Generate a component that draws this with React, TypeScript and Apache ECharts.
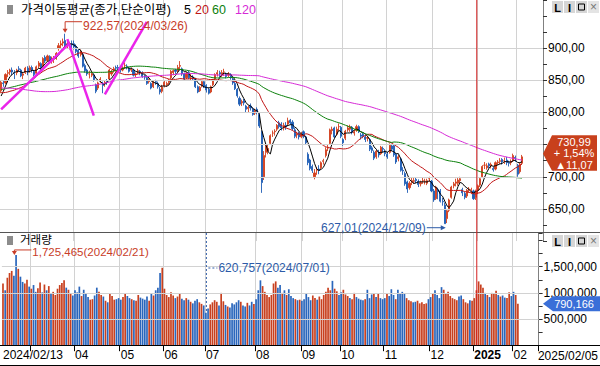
import React, { useEffect, useRef } from 'react';
import * as echarts from 'echarts';

// ---------------- DATA ----------------
const tradingDays: [string, number[]][] = [
  ['2024/02', [13, 14, 15, 16, 19, 20, 21, 22, 23, 26, 27, 28, 29]],
  ['2024/03', [4, 5, 6, 7, 8, 11, 12, 13, 14, 15, 18, 19, 20, 21, 22, 25, 26, 27, 28, 29]],
  ['2024/04', [1, 2, 3, 4, 5, 8, 9, 11, 12, 15, 16, 17, 18, 19, 22, 23, 24, 25, 26, 29, 30]],
  ['2024/05', [2, 3, 7, 8, 9, 10, 13, 14, 16, 17, 20, 21, 22, 23, 24, 27, 28, 29, 30, 31]],
  ['2024/06', [3, 4, 5, 7, 10, 11, 12, 13, 14, 17, 18, 19, 20, 21, 24, 25, 26, 27, 28]],
  ['2024/07', [1, 2, 3, 4, 5, 8, 9, 10, 11, 12, 15, 16, 17, 18, 19, 22, 23, 24, 25, 26, 29, 30, 31]],
  ['2024/08', [1, 2, 5, 6, 7, 8, 9, 12, 13, 14, 16, 19, 20, 21, 22, 23, 26, 27, 28, 29, 30]],
  ['2024/09', [2, 3, 4, 5, 6, 9, 10, 11, 12, 13, 19, 20, 23, 24, 25, 26, 27, 30]],
  ['2024/10', [2, 4, 7, 8, 10, 11, 14, 15, 16, 17, 18, 21, 22, 23, 24, 25, 28, 29, 30, 31]],
  ['2024/11', [1, 4, 5, 6, 7, 8, 11, 12, 13, 14, 15, 18, 19, 20, 21, 22, 25, 26, 27, 28, 29]],
  ['2024/12', [2, 3, 4, 5, 6, 9, 10, 11, 12, 13, 16, 17, 18, 19, 20, 23, 24, 26, 27, 30]],
  ['2025/01', [2, 3, 6, 7, 8, 9, 10, 13, 14, 15, 16, 17, 20, 21, 22, 23, 24, 31]],
  ['2025/02', [3, 4, 5]],
];

// closes before the visible range (needed for the moving averages)
const preCloses = [
  888, 872, 866, 873, 884, 888, 905, 905, 910, 914, 918, 925,
  920, 926, 921, 915, 910, 902, 895, 890, 885, 880, 876, 866, 860, 852, 848, 855, 843, 838, 829,
  800, 806, 808, 800, 810, 815, 809, 806, 815, 810, 791, 779, 770, 778, 771, 746, 758, 758, 757,
  766, 786, 783, 839, 817, 808, 800, 797, 800, 806, 819, 819, 810, 811, 815, 812, 815, 809, 812, 814, 816, 808,
  816, 830, 820, 821, 818, 824, 830, 835, 826, 832, 835, 838, 852, 855, 852, 852, 851, 859, 866,
  878, 866, 868, 878, 879, 873, 870, 874, 869, 858, 851, 849, 842, 847, 842, 840, 838, 832, 826, 830, 820, 808,
  805, 813, 808, 818, 823, 832,
];

// [open, close, low, high]
const ohlc: number[][] = [
  // 2024/02
  [834, 847, 830, 849], [846, 845, 840, 850], [846, 859, 844, 861], [861, 862, 855, 866], [863, 866, 858, 868],
  [866, 863, 858, 870], [862, 861, 852, 866], [862, 866, 858, 868], [868, 867, 863, 872], [866, 857, 855, 868],
  [858, 860, 852, 862], [862, 869, 860, 871], [869, 863, 858, 872],
  // 2024/03
  [866, 870, 862, 873], [870, 866, 862, 873], [864, 859, 856, 866], [861, 871, 860, 873], [872, 877, 869, 880],
  [876, 869, 866, 878], [872, 884, 870, 886], [886, 880, 877, 889], [881, 888, 879, 890], [887, 880, 878, 889],
  [880, 884, 876, 887], [883, 885, 877, 888], [884, 892, 882, 894], [900, 904, 896, 908], [905, 907, 900, 912],
  [908, 910, 903, 915], [912, 905, 902, 922.57], [905, 907, 899, 910], [906, 906, 898, 910], [907, 905, 900, 912],
  // 2024/04
  [907, 902, 898, 912], [903, 895, 892, 906], [897, 888, 885, 900], [890, 895, 887, 898], [890, 872, 870, 892],
  [873, 865, 862, 876], [866, 860, 857, 868], [860, 860, 853, 865], [858, 860, 855, 864], [858, 851, 848, 860],
  [843, 833, 830, 845], [838, 846, 835, 848], [850, 852, 846, 855], [845, 842, 830, 848], [846, 847, 840, 850],
  [848, 847, 843, 852], [852, 866, 851, 868], [860, 863, 857, 866], [866, 868, 862, 871], [870, 869, 865, 873],
  [870, 869, 864, 874],
  // 2024/05
  [868, 867, 862, 871], [866, 869, 864, 872], [873, 873, 868, 878], [872, 871, 867, 875], [869, 864, 862, 871],
  [866, 867, 863, 870], [866, 858, 856, 868], [859, 860, 855, 862], [864, 865, 860, 868], [864, 862, 858, 866],
  [862, 856, 854, 864], [857, 855, 851, 859], [854, 845, 843, 856], [848, 851, 845, 853], [845, 838, 836, 847],
  [840, 847, 838, 849], [848, 847, 843, 851], [845, 840, 837, 848], [836, 832, 828, 840], [833, 840, 830, 843],
  // 2024/06
  [842, 847, 839, 850], [843, 845, 840, 848], [847, 849, 843, 852], [854, 864, 852, 866], [862, 865, 858, 867],
  [866, 864, 860, 868], [865, 870, 862, 874], [872, 873, 867, 880], [868, 860, 857, 870], [860, 852, 850, 862],
  [854, 861, 852, 863], [862, 854, 852, 865], [855, 856, 850, 860], [855, 852, 849, 858], [852, 840, 838, 854],
  [840, 832, 830, 842], [834, 839, 832, 841], [841, 848, 839, 850], [848, 840, 838, 850],
  // 2024/07
  [842, 835, 831, 844], [836, 830, 828, 839], [832, 840, 830, 842], [843, 850, 841, 852], [852, 859, 850, 861],
  [860, 862, 856, 866], [862, 860, 855, 865], [858, 862, 855, 866], [863, 863, 857, 868], [860, 856, 853, 862],
  [858, 860, 855, 863], [859, 854, 851, 861], [852, 846, 843, 855], [845, 837, 835, 848], [836, 826, 823, 838],
  [822, 813, 810, 825], [815, 817, 810, 820], [818, 815, 811, 821], [810, 805, 800, 812], [806, 808, 800, 811],
  [810, 807, 803, 814], [805, 797, 795, 808], [799, 803, 796, 806],
  // 2024/08
  [805, 800, 797, 808], [797, 779, 776, 799], [770, 691, 675, 772], [700, 733, 695, 740], [738, 746, 730, 752],
  [740, 744, 735, 750], [752, 764, 750, 766], [768, 768, 762, 772], [770, 771, 764, 774], [774, 780, 771, 782],
  [784, 778, 775, 787], [782, 776, 772, 785], [776, 780, 772, 784], [780, 778, 773, 785], [782, 787, 779, 792],
  [788, 784, 781, 790], [785, 775, 772, 788], [773, 763, 760, 776], [765, 767, 760, 770], [768, 762, 758, 770],
  [762, 767, 760, 770],
  // 2024/09
  [770, 763, 760, 772], [762, 753, 750, 764], [735, 722, 718, 738], [726, 713, 710, 728], [716, 710, 706, 719],
  [700, 706, 696, 712], [710, 710, 703, 715], [712, 710, 704, 718], [714, 722, 712, 724], [724, 725, 719, 728],
  [733, 742, 730, 746], [745, 746, 740, 750], [752, 773, 750, 775], [772, 774, 766, 778], [776, 762, 760, 778],
  [766, 774, 764, 778], [778, 778, 772, 783], [777, 763, 760, 779],
  // 2024/10
  [758, 753, 748, 760], [760, 771, 757, 773], [773, 776, 770, 780], [774, 778, 770, 781], [777, 769, 766, 779],
  [768, 770, 764, 773], [772, 778, 770, 781], [778, 770, 768, 780], [765, 763, 758, 768], [766, 763, 760, 769],
  [762, 758, 754, 765], [760, 761, 755, 764], [758, 743, 740, 760], [745, 741, 737, 748], [738, 729, 726, 741],
  [731, 740, 728, 742], [738, 734, 730, 742], [736, 746, 734, 748], [744, 743, 738, 747], [740, 736, 732, 743],
  // 2024/11
  [735, 731, 728, 739], [738, 749, 736, 752], [748, 743, 740, 751], [748, 734, 731, 750], [735, 723, 720, 737],
  [728, 731, 724, 734], [728, 710, 708, 730], [710, 709, 703, 715], [705, 689, 686, 708], [692, 681, 675, 694],
  [683, 690, 680, 693], [692, 694, 687, 698], [693, 694, 689, 698], [696, 694, 690, 699], [693, 688, 684, 696],
  [689, 691, 685, 694], [694, 694, 689, 699], [693, 693, 688, 697], [690, 694, 687, 697], [697, 697, 692, 700],
  [693, 678, 676, 695],
  // 2024/12
  [678, 664, 661, 681], [666, 684, 664, 686], [680, 677, 665, 683], [678, 662, 660, 681], [662, 661, 655, 667],
  [656, 627.01, 627.01, 660], [635, 647, 628, 650], [648, 664, 645, 666], [668, 684, 666, 686], [686, 689, 682, 692],
  [690, 692, 685, 697], [690, 695, 686, 698], [694, 697, 690, 700], [680, 675, 670, 683], [674, 668, 665, 677],
  [670, 679, 667, 681], [680, 681, 676, 684], [679, 680, 673, 683], [678, 666, 664, 680], [668, 678, 664, 680],
  // 2025/01
  [679, 686, 673, 688], [687, 697, 684, 699], [700, 716, 698, 718], [718, 718, 712, 723], [714, 717, 711, 721],
  [720, 717, 713, 722], [717, 719, 713, 722], [713, 711, 708, 716], [712, 722, 710, 724], [722, 723, 718, 726],
  [724, 725, 720, 729], [727, 723, 719, 729], [725, 725, 720, 730], [726, 722, 718, 731], [722, 721, 716, 725],
  [722, 724, 718, 727], [725, 733, 723, 736], [730, 729, 723, 733],
  // 2025/02
  [718, 704, 700, 720], [708, 719.92, 705, 722], [721, 730.99, 719, 734],
];

const volumes: number[] = [
  1180000, 1050000, 1290000, 1380000, 1420000, 1330000, 1725465, 1460000, 1310000, 1210000, 1180000, 1250000, 1120000,
  1080000, 1150000, 1020000, 1090000, 1200000, 1010000, 1160000, 1050000, 1130000, 990000, 1020000, 960000, 1080000, 1150000, 1190000, 1240000, 1100000, 1060000, 990000, 950000,
  1050000, 1010000, 1120000, 940000, 1060000, 980000, 920000, 870000, 880000, 950000, 1100000, 1020000, 960000, 930000, 850000, 820000, 990000, 940000, 870000, 880000, 900000,
  870000, 920000, 980000, 940000, 900000, 880000, 860000, 850000, 960000, 910000, 890000, 870000, 930000, 850000, 980000, 950000, 1050000, 1100000, 1380000, 1480000,
  1080000, 960000, 920000, 1010000, 950000, 900000, 930000, 980000, 890000, 860000, 900000, 870000, 830000, 800000, 850000, 880000, 820000, 790000, 760000,
  620757, 700000, 780000, 820000, 860000, 830000, 760000, 1000000, 840000, 770000, 740000, 720000, 800000, 780000, 820000, 860000, 830000, 760000, 740000, 810000, 760000, 830000, 790000,
  880000, 1050000, 1240000, 1130000, 1020000, 960000, 920000, 960000, 1180000, 1220000, 1100000, 1150000, 1000000, 1050000, 960000, 1070000, 940000, 900000, 880000, 860000, 870000,
  850000, 880000, 990000, 920000, 860000, 950000, 900000, 870000, 930000, 880000, 960000, 1020000, 1100000, 1050000, 1230000, 1080000, 1030000, 960000,
  1010000, 1060000, 970000, 940000, 900000, 880000, 1000000, 920000, 890000, 870000, 860000, 880000, 1060000, 900000, 970000, 1000000, 920000, 980000, 900000, 880000,
  900000, 980000, 940000, 1070000, 960000, 880000, 1060000, 980000, 1020000, 990000, 900000, 860000, 840000, 820000, 830000, 850000, 800000, 820000, 790000, 800000, 880000,
  920000, 980000, 1050000, 960000, 900000, 1110000, 1060000, 1000000, 1020000, 940000, 900000, 880000, 860000, 930000, 950000, 880000, 820000, 800000, 860000, 850000,
  900000, 1050000, 1220000, 1160000, 1100000, 1000000, 960000, 920000, 1000000, 980000, 1040000, 960000, 930000, 950000, 910000, 900000, 1010000, 940000,
  1020000, 960000, 790166,
];

const maPeriods = [5, 20, 60, 120];
const maColors = ['#000000', '#c01616', '#0c800c', '#d62ad6'];
const priceGridLevels = [650, 700, 750, 800, 850, 900];
const volumeGridLevels = [500000, 1000000, 1500000];
// user-drawn trend lines: [dayIndex, price] pairs
const trendLines: number[][][] = [
  [[0, 805], [31, 908]],
  [[30, 914], [42, 795]],
  [[47, 828], [66, 941]],
];
const chartTitle = '가격이동평균(종가,단순이평)';
const volumeTitle = '거래량';
const endDateLabel = '2025/02/05';

// ---------------- HELPERS ----------------
const FONT = "'Liberation Sans', Arial, 'Noto Sans CJK KR', sans-serif";
const UP = '#d2401e';
const DOWN = '#1f5eb5';
const UPV = '#c8401f';
const DOWNV = '#2a66bc';
const RED_TXT = '#c83c28';
const BLUE_TXT = '#2d5ba8';

const dates: string[] = [];
tradingDays.forEach(([ym, days]) => days.forEach((d) => dates.push(`${ym}/${String(d).padStart(2, '0')}`)));
const padCount = 9;
const categories = [...dates, ...Array.from({ length: padCount }, (_, k) => `pad${k}`)];
const monthStarts = new Set<number>();
dates.forEach((d, i) => {
  if (i > 0 && d.slice(0, 7) !== dates[i - 1].slice(0, 7)) monthStarts.add(i);
});
const closes = ohlc.map((d) => d[1]);
const lastClose = closes[closes.length - 1];
const allCloses = [...preCloses, ...closes];
function movingAverage(n: number) {
  return closes.map((_, i) => {
    const end = i + preCloses.length;
    let s = 0;
    for (let k = end - n + 1; k <= end; k++) s += allCloses[k];
    return +(s / n).toFixed(2);
  });
}
const fmtPrice = (v: number) => v.toFixed(2).replace('.', ',');
const fmtVol = (v: number) => Math.round(v).toLocaleString('en-US');

export default function App() {
  const ref = useRef<HTMLDivElement>(null);
  useEffect(() => {
    const el = ref.current!;
    const chart = echarts.init(el, undefined, { renderer: 'svg' });
    const xBase = {
      type: 'category',
      data: categories,
      boundaryGap: true,
      axisLine: { show: false },
      axisTick: { show: false },
      axisLabel: { show: false },
      splitLine: { show: true, interval: (i: number) => monthStarts.has(i), lineStyle: { color: '#d2d2d2', width: 1 } },
    };
    const option: any = {
      animation: false,
      backgroundColor: '#ffffff',
      grid: [
        { left: -1, right: 57, top: -9.43, height: 250.5 },
        { left: -1, right: 57, top: 233, height: 112.2 },
      ],
      xAxis: [
        { ...xBase, gridIndex: 0 },
        {
          ...xBase,
          gridIndex: 1,
          axisTick: { show: true, interval: (i: number) => monthStarts.has(i), length: 6, lineStyle: { color: '#000' } },
          axisLabel: {
            show: true,
            interval: (i: number) => i === 0 || (monthStarts.has(i) && i > 20),
            align: 'left',
            margin: 4,
            fontSize: 12,
            fontFamily: FONT,
            color: '#000',
            formatter: (v: string, i: number) => {
              if (i === 0) return v;
              const mm = v.slice(5, 7);
              if (mm === '01') return `{b|${v.slice(0, 4)}}`;
              return mm;
            },
            rich: { b: { fontWeight: 'bold', fontSize: 12, fontFamily: FONT, color: '#000' } },
          },
        },
      ],
      yAxis: [
        {
          type: 'value', gridIndex: 0, position: 'right', min: 600, max: 975, interval: 25,
          axisLine: { show: true, lineStyle: { color: '#808080' } },
          axisTick: { show: true, length: 4, lineStyle: { color: '#333' } },
          splitLine: { show: false },
          axisLabel: {
            margin: 5, fontSize: 12, fontFamily: FONT, color: '#000',
            // labels hidden behind the current-price box are not drawn
            formatter: (v: number) => (priceGridLevels.includes(v) && Math.abs(v - lastClose) >= 25 ? fmtPrice(v) : ''),
          },
        },
        {
          type: 'value', gridIndex: 1, position: 'right', min: 0, max: 2145000, interval: 250000,
          axisLine: { show: true, lineStyle: { color: '#808080' } },
          axisTick: { show: true, length: 4, lineStyle: { color: '#333' } },
          splitLine: { show: false },
          axisLabel: {
            margin: 5, fontSize: 12, fontFamily: FONT, color: '#000',
            formatter: (v: number) => (volumeGridLevels.includes(v) ? fmtVol(v) : ''),
          },
        },
      ],
      series: [
        {
          type: 'line', xAxisIndex: 0, yAxisIndex: 0, data: closes.map(() => null), z: 1, silent: true,
          symbol: 'none',
          markLine: {
            silent: true, symbol: ['none', 'none'], label: { show: false },
            lineStyle: { color: '#d2d2d2', type: 'solid', width: 1 },
            data: priceGridLevels.map((v) => ({ yAxis: v })),
          },
        },
        {
          type: 'line', xAxisIndex: 1, yAxisIndex: 1, data: volumes.map(() => null), z: 1, silent: true,
          symbol: 'none',
          markLine: {
            silent: true, symbol: ['none', 'none'], label: { show: false },
            lineStyle: { color: '#d2d2d2', type: 'solid', width: 1 },
            data: volumeGridLevels.map((v) => ({ yAxis: v })),
          },
        },
        {
          type: 'candlestick', xAxisIndex: 0, yAxisIndex: 0, data: ohlc, barWidth: 1.6, z: 3,
          itemStyle: { color: UP, color0: DOWN, borderColor: UP, borderColor0: DOWN, borderColorDoji: UP, borderWidth: 0.9 },
        },
        ...maPeriods.map((p, k) => ({
          type: 'line', xAxisIndex: 0, yAxisIndex: 0, data: movingAverage(p), symbol: 'none', silent: true, z: 4,
          lineStyle: { width: 1, color: maColors[k] },
        })),
        {
          type: 'bar', xAxisIndex: 1, yAxisIndex: 1, barWidth: 1.7, z: 3,
          data: volumes.map((v, i) => ({ value: v, itemStyle: { color: ohlc[i][1] >= ohlc[i][0] ? UPV : DOWNV } })),
        },
      ],
    };
    chart.setOption(option);

    const X = (i: number) => chart.convertToPixel({ xAxisIndex: 0 }, i) as number;
    const YP = (v: number) => chart.convertToPixel({ yAxisIndex: 0 }, v) as number;
    const YV = (v: number) => chart.convertToPixel({ yAxisIndex: 1 }, v) as number;
    const band = X(1) - X(0);

    const txt = (text: string, x: number, y: number, fill: string, align = 'left', size = 12, weight = 'normal', lineHeight?: number) => ({
      type: 'text', x, y, z: 100,
      style: { text, fill, fontSize: size, fontFamily: FONT, fontWeight: weight, align, verticalAlign: 'middle', lineHeight },
    });
    const ln = (x1: number, y1: number, x2: number, y2: number, stroke: string, lineWidth = 1, lineDash?: number[]) => ({
      type: 'line', z: 100, shape: { x1, y1, x2, y2 }, style: { stroke, lineWidth, lineDash },
    });
    const poly = (points: number[][], fill: string) => ({ type: 'polygon', z: 100, shape: { points }, style: { fill } });
    const rect = (x: number, y: number, w: number, h: number, fill: string, stroke?: string) => ({
      type: 'rect', z: 100, shape: { x, y, width: w, height: h }, style: { fill, stroke },
    });
    const buttons = (y: number) => [
      rect(552, y, 11, 12, '#d6d6d6'), txt('L', 557.5, y + 6.5, '#000', 'center', 11, 'bold'),
      rect(564, y, 11, 12, '#d6d6d6'), txt('I', 569.5, y + 6.5, '#000', 'center', 11, 'bold'),
      rect(576, y, 11, 12, '#d6d6d6'), rect(578.5, y + 3, 6, 6, 'none', '#000'),
      rect(588, y, 11, 12, '#e4e4e4'), txt('×', 593.5, y + 6, '#777', 'center', 12, 'normal'),
    ];

    const els: any[] = [];
    // titles
    els.push(rect(7, 5, 6, 9, '#8c8c8c'));
    els.push(txt(chartTitle, 21, 9.5, '#000', 'left', 12.5));
    els.push(txt(String(maPeriods[0]), 184, 9.5, maColors[0], 'left', 12.5));
    els.push(txt(String(maPeriods[1]), 195, 9.5, maColors[1], 'left', 12.5));
    els.push(txt(String(maPeriods[2]), 212, 9.5, maColors[2], 'left', 12.5));
    els.push(txt(String(maPeriods[3]), 235, 9.5, maColors[3], 'left', 12.5));
    els.push(rect(7, 236, 6, 9, '#8c8c8c'));
    els.push(txt(volumeTitle, 20, 240, '#000', 'left', 11.5));
    els.push(...buttons(1));
    els.push(...buttons(235));
    // separators and frame lines
    const yZero = YV(0);
    els.push(ln(0, 232.5, 600, 232.5, '#555', 1));
    els.push(ln(0, Math.round(yZero) + 0.5, 600, Math.round(yZero) + 0.5, '#000', 1));
    els.push(ln(0, 365.5, 600, 365.5, '#000', 1));
    // year divider
    const yearIdx = dates.findIndex((d) => d.startsWith('2025'));
    const xYear = X(yearIdx) - band / 2;
    els.push(ln(xYear, 0, xYear, yZero, '#d42020', 1));
    // trend lines
    trendLines.forEach(([a, b]) => els.push(ln(X(a[0]), YP(a[1]), X(b[0]), YP(b[1]), '#ea24ea', 2.5)));

    // max / min price annotations
    let hiIdx = 0, loIdx = 0;
    ohlc.forEach((d, i) => {
      if (d[3] > ohlc[hiIdx][3]) hiIdx = i;
      if (d[2] < ohlc[loIdx][2]) loIdx = i;
    });
    {
      const x = X(hiIdx), y = YP(ohlc[hiIdx][3]);
      els.push(ln(x, y - 12, x + 17, y - 12, RED_TXT));
      els.push(ln(x, y - 12, x, y - 4, RED_TXT));
      els.push(poly([[x - 2.5, y - 5], [x + 2.5, y - 5], [x, y - 1]], RED_TXT));
      els.push(txt(`${fmtPrice(ohlc[hiIdx][3])}(${dates[hiIdx]})`, x + 18, y - 8, RED_TXT));
    }
    {
      const x = X(loIdx), y = YP(ohlc[loIdx][2]) + 4;
      els.push(ln(x - 18, y, x - 2, y, BLUE_TXT));
      els.push(poly([[x - 4, y - 2.5], [x - 4, y + 2.5], [x + 1, y]], BLUE_TXT));
      els.push(txt(`${fmtPrice(ohlc[loIdx][2])}(${dates[loIdx]})`, x - 19, y, BLUE_TXT, 'right'));
    }
    // max / min volume annotations
    let vHi = 0, vLo = 0;
    volumes.forEach((v, i) => {
      if (v > volumes[vHi]) vHi = i;
      if (v < volumes[vLo]) vLo = i;
    });
    {
      const x = X(vHi), y = YV(volumes[vHi]);
      els.push(ln(x, y - 5, x + 17, y - 5, RED_TXT));
      els.push(ln(x, y - 5, x, y - 3, RED_TXT));
      els.push(poly([[x - 2.5, y - 4], [x + 2.5, y - 4], [x, y]], RED_TXT));
      els.push(txt(`${fmtVol(volumes[vHi])}(${dates[vHi]})`, x + 18, y - 2.5, RED_TXT, 'left', 11.5));
    }
    {
      const x = X(vLo), y = YV(volumes[vLo]);
      const ly = 268;
      els.push(ln(x, 233, x, y, BLUE_TXT, 1, [2, 2]));
      els.push(ln(x + 2, ly, x + 11, ly, BLUE_TXT, 1, [2, 2]));
      els.push(txt(`${fmtVol(volumes[vLo])}(${dates[vLo]})`, x + 12, ly, BLUE_TXT));
    }
    // last price box
    {
      const n = closes.length;
      const last = closes[n - 1], prev = closes[n - 2];
      const diff = last - prev;
      const pct = (diff / prev) * 100;
      const c = YP(last) - 3;
      els.push(poly([[543, c], [552, c - 18.5], [597, c - 18.5], [597, c + 17], [552, c + 17]], '#c8401c'));
      const boxText = `${fmtPrice(last)}\n${pct >= 0 ? '+' : '-'} ${fmtPrice(Math.abs(pct))}%\n${diff >= 0 ? '▲' : '▼'}${fmtPrice(Math.abs(diff))}`;
      els.push(txt(boxText, 574, c - 0.5, '#fff', 'center', 11, 'normal', 11.5));
      const lv = volumes[n - 1];
      const vy = YV(lv);
      els.push(poly([[543, vy], [553, vy - 7.5], [600, vy - 7.5], [600, vy + 7.5], [553, vy + 7.5]], '#3a6fd8'));
      els.push(txt(fmtVol(lv), 574, vy + 0.5, '#fff', 'center', 11));
    }
    els.push(txt(endDateLabel, 598, 356, '#000', 'right'));

    chart.setOption({ graphic: { elements: els } });
    return () => chart.dispose();
  }, []);
  return <div ref={ref} style={{ position: 'fixed', left: 0, top: 0, width: 600, height: 366, background: '#fff' }} />;
}
